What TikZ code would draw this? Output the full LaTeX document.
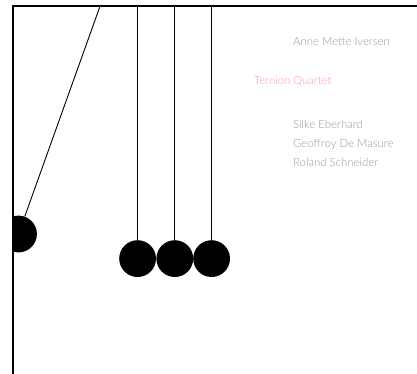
\documentclass[tikz,border=0pt]{standalone}
\usepackage{fontspec}
\setmainfont{Lato}[UprightFont={* Light}]
\definecolor{credit}{HTML}{989898}
\definecolor{titlepink}{HTML}{F29EA0}
\begin{document}
\begin{tikzpicture}[x=1bp,y=-1bp,
  ball/.style={circle,fill=black,inner sep=0pt,minimum size=36.8bp},
  stringline/.style={line width=0.9bp,black},
  frameline/.style={line width=2bp,black,line join=miter},
  credittext/.style={anchor=base west,inner sep=0pt,text=credit,font=\fontsize{11.4}{13}\selectfont},
  titletext/.style={anchor=base west,inner sep=0pt,text=titlepink,font=\fontsize{11.3}{13}\selectfont}]
\useasboundingbox[fill=white] (0,0) rectangle (417,374);
% pivots
\coordinate (p0) at (100,6.3);
\coordinate (p1) at (137.6,6.3);
\coordinate (p2) at (174.8,6.3);
\coordinate (p3) at (211.6,6.3);
% swinging ball, clipped at the frame
\begin{scope}
\clip (13,0) rectangle (417,374);
\node[ball] (b0) at (18.5,234) {};
\end{scope}
\node[ball] (b1) at (137.6,258.6) {};
\node[ball] (b2) at (174.8,258.6) {};
\node[ball] (b3) at (211.6,258.6) {};
\draw[stringline] (p0) -- (b0);
\draw[stringline] (p1) -- (b1);
\draw[stringline] (p2) -- (b2);
\draw[stringline] (p3) -- (b3);
% frame
\coordinate (fr) at (417,6.3);
\coordinate (fc) at (13,6.3);
\coordinate (fb) at (13,374);
\draw[frameline] (fr) -- (fc) -- (fb);
% texts
\node[credittext] (anne) at (293,45) {Anne Mette Iversen};
\node[titletext] (ternion) at (254,84) {Ternion Quartet};
\node[credittext] (silke) at (293,128) {Silke Eberhard};
\node[credittext] (geoffroy) at (293,147) {Geoffroy De Masure};
\node[credittext] (roland) at (293,166) {Roland Schneider};
\end{tikzpicture}
\end{document}
